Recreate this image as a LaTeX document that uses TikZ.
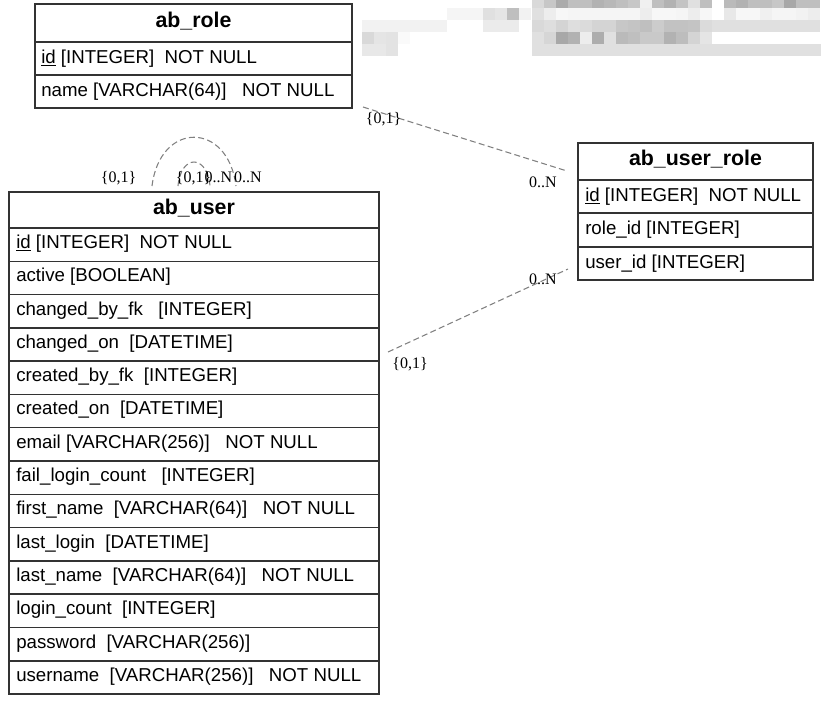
\documentclass[tikz,border=0pt]{standalone}
\usepackage{fontspec}
\setmainfont{Liberation Sans}
\newfontfamily\cardfont{Liberation Serif}
\usepackage{xcolor}
\usepackage{tikz}
\usetikzlibrary{shapes, arrows}

\begin{document}
\begin{tikzpicture}[x=0.75pt,y=0.75pt,yscale=-1,xscale=1,
        tbl/.style={draw={rgb, 255:red, 51; green, 51; blue, 51 }, line width=1.1pt},
        hdr/.style={anchor=base, inner sep=0pt, font=\fontsize{16pt}{18pt}\selectfont\bfseries},
        fld/.style={anchor=base west, inner sep=0pt, font=\fontsize{14pt}{16pt}\selectfont},
        card/.style={anchor=base, inner sep=0pt, font=\fontsize{12pt}{14pt}\selectfont\cardfont},
        rel/.style={draw={rgb, 255:red, 128; green, 128; blue, 128 }, line width=0.8pt, dash pattern=on 4.5pt off 2.5pt}]

        \useasboundingbox (0,0) rectangle (821,701);

        % blurred strip top right
        \foreach \g [count=\i] in {85,78,67,75,75,70,72,75,78,94,75,70,77,88,75,100,73,70,75,75,78,66,75,75}
            \fill [white!\g!black] ({520+12*\i},0) rectangle ++(12,8);
        \foreach \g [count=\i] in {88,93,97,96,96,96,96,96,96,93,97,97,96,93,97,100,91,97,97,94,96,96,95,93}
            \fill [white!\g!black] ({520+12*\i},8) rectangle ++(12,12);
        \foreach \g [count=\i] in {85,87,83,87,86,83,83,78,77,75,80,76,76,77,86,88,88,88,88,88,88,88,88,88}
            \fill [white!\g!black] ({520+12*\i},20) rectangle ++(12,12);
        \foreach \g [count=\i] in {88,84,66,70,93,68,88,73,75,79,79,70,74,83,90}
            \fill [white!\g!black] ({520+12*\i},32) rectangle ++(12,12);
        \fill [white!88!black] (532,44) rectangle (821,56);
        \foreach \g [count=\i] in {96,96,96,88,90,75,95}
            \fill [white!\g!black] ({435+12*\i},8) rectangle ++(12,12);
        \fill [white!95!black] (362,20) rectangle (447,32);
        \fill [white!92!black] (483,20) rectangle (519,32);
        \foreach \g [count=\i] in {85,90,89,98}
            \fill [white!\g!black] ({350+12*\i},32) rectangle ++(12,12);
        \foreach \g [count=\i] in {91,91,89}
            \fill [white!\g!black] ({350+12*\i},44) rectangle ++(12,12);

        % ab_role
        \draw [tbl] (35,4) rectangle (352,108);
        \draw [tbl] (35,42) -- (352,42);
        \draw [tbl] (35,75) -- (352,75);
        \node [hdr] (role) at (193.5,27) {ab\_role};
        \node [fld] (role_id) at (41,63) {\underline{id}~[INTEGER]~~NOT NULL};
        \node [fld] (role_name) at (41,96) {name [VARCHAR(64)]~~~NOT NULL};

        % ab_user_role
        \draw [tbl] (578,143) rectangle (813,280);
        \draw [tbl] (578,180) -- (813,180);
        \draw [tbl] (578,213) -- (813,213);
        \draw [tbl] (578,247) -- (813,247);
        \node [hdr] (userrole) at (695.5,165) {ab\_user\_role};
        \node [fld] (ur_id) at (585,201.5) {\underline{id}~[INTEGER]~~NOT NULL};
        \node [fld] (ur_role) at (585,234.5) {role\_id [INTEGER]};
        \node [fld] (ur_user) at (585,268) {user\_id [INTEGER]};

        % ab_user
        \draw [tbl] (9,192) rectangle (379,694);
        \foreach \k in {0,...,13}
            \draw [tbl] (9,{228+33.29*\k}) -- (379,{228+33.29*\k});
        \node [hdr] (user) at (194,214) {ab\_user};
        \node [fld] (u_id) at (16,248.5) {\underline{id}~[INTEGER]~~NOT NULL};
        \node [fld] (u_active) at (16,281.8) {active [BOOLEAN]};
        \node [fld] (u_chby) at (16,315.1) {changed\_by\_fk~~~[INTEGER]};
        \node [fld] (u_chon) at (16,348.4) {changed\_on~~[DATETIME]};
        \node [fld] (u_crby) at (16,381.7) {created\_by\_fk~~[INTEGER]};
        \node [fld] (u_cron) at (16,414.9) {created\_on~~[DATETIME]};
        \node [fld] (u_email) at (16,448.2) {email [VARCHAR(256)]~~~NOT NULL};
        \node [fld] (u_fail) at (16,481.5) {fail\_login\_count~~~[INTEGER]};
        \node [fld] (u_first) at (16,514.8) {first\_name~~[VARCHAR(64)]~~~NOT NULL};
        \node [fld] (u_lastlog) at (16,548.1) {last\_login~~[DATETIME]};
        \node [fld] (u_last) at (16,581.4) {last\_name~~[VARCHAR(64)]~~~NOT NULL};
        \node [fld] (u_count) at (16,614.7) {login\_count~~[INTEGER]};
        \node [fld] (u_pass) at (16,648) {password~~[VARCHAR(256)]};
        \node [fld] (u_name) at (16,681.3) {username~~[VARCHAR(256)]~~~NOT NULL};

        % relations
        \coordinate (roleEnd) at (363,107);
        \coordinate (urTop) at (567,171);
        \coordinate (userEnd) at (388,352);
        \coordinate (urLow) at (568,269);
        \coordinate (loopA) at (152,186);
        \coordinate (loopB) at (236,186);
        \coordinate (loopC) at (178,186);
        \coordinate (loopD) at (210,186);
        \draw [rel] (roleEnd) -- (urTop);
        \draw [rel] (userEnd) -- (urLow);
        \draw [rel] (loopA) .. controls (160,121) and (228,121) .. (loopB);
        \draw [rel] (loopC) .. controls (181,154) and (207,154) .. (loopD);

        \node [card] (c_role) at (383.5,123) {\{0,1\}};
        \node [card] (c_urtop) at (543,187) {0..N};
        \node [card] (c_urlow) at (543,284) {0..N};
        \node [card] (c_user) at (410,368) {\{0,1\}};
        \node [card] (c_loopA) at (118.5,182) {\{0,1\}};
        \node [card] (c_loopC) at (193.5,182) {\{0,1\}};
        \node [card] (c_loopD) at (218.5,182) {0..N};
        \node [card] (c_loopB) at (248,182) {0..N};
    \end{tikzpicture}
\end{document}
